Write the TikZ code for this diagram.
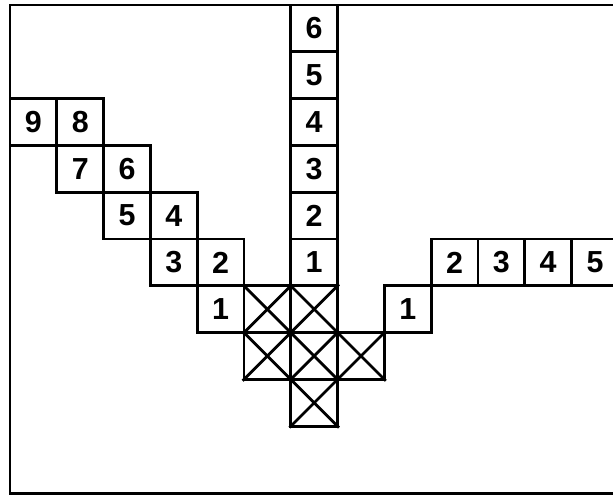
\documentclass[tikz,border=0pt]{standalone}
\usepackage{fontspec}
\setmainfont{Liberation Sans}
\begin{document}
\begin{tikzpicture}[
  x=1cm,y=1cm,
  cellbox/.style={draw, line width=1.7pt, rectangle, minimum size=1cm, inner sep=0pt,
    font=\fontsize{18.5}{20}\selectfont\bfseries},
  crossline/.style={line width=1.7pt},
  framel/.style={line width=1.7pt}
]
\useasboundingbox (-0.214,0.107) rectangle (12.885,-10.47);
% frame
\draw[framel] (13.5,0) -- (0,0) -- (0,-10.43) -- (13.5,-10.43);
% vertical column
\node[cellbox] (v6) at (6.5,-0.5) {6};
\node[cellbox] (v5) at (6.5,-1.5) {5};
\node[cellbox] (v4) at (6.5,-2.5) {4};
\node[cellbox] (v3) at (6.5,-3.5) {3};
\node[cellbox] (v2) at (6.5,-4.5) {2};
\node[cellbox] (v1) at (6.5,-5.5) {1};
% left staircase
\node[cellbox] (l9) at (0.5,-2.5) {9};
\node[cellbox] (l8) at (1.5,-2.5) {8};
\node[cellbox] (l7) at (1.5,-3.5) {7};
\node[cellbox] (l6) at (2.5,-3.5) {6};
\node[cellbox] (l5) at (2.5,-4.5) {5};
\node[cellbox] (l4) at (3.5,-4.5) {4};
\node[cellbox] (l3) at (3.5,-5.5) {3};
\node[cellbox] (l2) at (4.5,-5.5) {2};
\node[cellbox] (l1) at (4.5,-6.5) {1};
% right run
\node[cellbox] (r1) at (8.5,-6.5) {1};
\node[cellbox] (r2) at (9.5,-5.5) {2};
\node[cellbox] (r3) at (10.5,-5.5) {3};
\node[cellbox] (r4) at (11.5,-5.5) {4};
\node[cellbox] (r5) at (12.5,-5.5) {5};
% crossed cells
\foreach \n/\x/\y in {xa/5.5/-6.5, xb/6.5/-6.5, xc/5.5/-7.5, xd/6.5/-7.5, xe/7.5/-7.5, xf/6.5/-8.5}{
  \node[cellbox] (\n) at (\x,\y) {};
  \draw[crossline] (\n.north west) -- (\n.south east);
  \draw[crossline] (\n.north east) -- (\n.south west);
}
\end{tikzpicture}
\end{document}
